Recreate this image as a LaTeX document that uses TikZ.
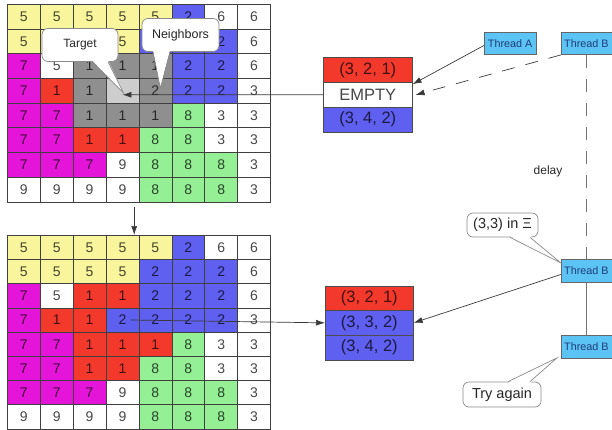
\documentclass[tikz,border=0pt]{standalone}
\usepackage{fontspec}
\setmainfont{Liberation Sans}
\usetikzlibrary{arrows.meta,calc}

\definecolor{cY}{HTML}{F9F59C}
\definecolor{cB}{HTML}{5F5FF0}
\definecolor{cM}{HTML}{E414D8}
\definecolor{cR}{HTML}{F2392C}
\definecolor{cG}{HTML}{8F8F8F}
\definecolor{cL}{HTML}{CDCDCD}
\definecolor{cN}{HTML}{95F095}
\definecolor{cW}{HTML}{FFFFFF}
\definecolor{thfill}{HTML}{5CC3F5}
\definecolor{thtext}{HTML}{1F3C78}
\definecolor{linkc}{HTML}{3A3A3A}
\definecolor{bubbleline}{HTML}{8A8A8A}

\tikzset{
  cell/.style={draw=black!75, line width=0.6pt, anchor=north west, inner sep=0pt,
    minimum width=32.9pt, minimum height=24.7pt,
    font=\fontsize{14}{16}\selectfont, text=black, text opacity=0.72},
  stackrow/.style={draw=black!70, line width=0.6pt, anchor=north west, inner sep=0pt,
    minimum width=89pt, minimum height=24.7pt,
    font=\fontsize{16.5}{18}\selectfont, text=black, text opacity=0.72},
  thread/.style={draw=black!60, fill=thfill, anchor=north west, inner sep=0pt,
    minimum width=50.5pt, minimum height=22.5pt, text=thtext,
    font=\fontsize{10.8}{12}\selectfont},
  bubble/.style={rounded corners=6pt, draw=bubbleline, fill=white,
    line width=0.7pt, text=black!85, inner sep=2pt},
  tailedge/.style={draw=bubbleline, line width=0.7pt, line join=miter},
  link/.style={draw=linkc, line width=0.7pt},
  tip/.style={-{Latex[length=9pt,width=6pt]}},
  longdash/.style={dash pattern=on 13pt off 11pt}
}

\begin{document}
\begin{tikzpicture}[x=1pt,y=-1pt]
\useasboundingbox (0,0) rectangle (612,430);

% grid before the update (cells under the "Target" and "Neighbors" boxes left blank)
\foreach \rowdata [count=\r from 0] in {
  {Y/5,Y/5,Y/5,Y/5,Y/5,B/2,W/6,W/6},
  {Y/5,Y/{},Y/{},Y/5,B/{},B/{},B/2,W/6},
  {M/7,W/5,G/1,G/1,G/1,B/2,B/2,W/6},
  {M/7,R/1,G/1,L/{},G/2,B/2,B/2,W/3},
  {M/7,M/7,G/1,G/1,G/1,N/8,W/3,W/3},
  {M/7,M/7,R/1,R/1,N/8,N/8,W/3,W/3},
  {M/7,M/7,M/7,W/9,N/8,N/8,N/8,W/3},
  {W/9,W/9,W/9,W/9,N/8,N/8,N/8,W/3}} {
  \foreach \c/\v [count=\k from 0] in \rowdata {
    \node[cell, fill=c\c] (t\r\k) at ({7+\k*32.9}, {4+\r*24.7}) {\v};
  }
}

% grid after the update
\foreach \rowdata [count=\r from 0] in {
  {Y/5,Y/5,Y/5,Y/5,Y/5,B/2,W/6,W/6},
  {Y/5,Y/5,Y/5,Y/5,B/2,B/2,B/2,W/6},
  {M/7,W/5,R/1,R/1,B/2,B/2,B/2,W/6},
  {M/7,R/1,R/1,B/2,B/2,B/2,B/2,W/3},
  {M/7,M/7,R/1,R/1,R/1,N/8,W/3,W/3},
  {M/7,M/7,R/1,R/1,N/8,N/8,W/3,W/3},
  {M/7,M/7,M/7,W/9,N/8,N/8,N/8,W/3},
  {W/9,W/9,W/9,W/9,N/8,N/8,N/8,W/3}} {
  \foreach \c/\v [count=\k from 0] in \rowdata {
    \node[cell, minimum height=24.2pt, fill=c\c] (b\r\k) at ({7+\k*32.9}, {235+\r*24.2}) {\v};
  }
}

% work stacks
\node[stackrow, fill=cR] (s1a) at (323,57.5) {(3, 2, 1)};
\node[stackrow, fill=cW] (s1b) at (323,82.2) {EMPTY};
\node[stackrow, fill=cB] (s1c) at (323,106.9) {(3, 4, 2)};

\node[stackrow, fill=cR, minimum width=88pt] (s2a) at (325,285.5) {(3, 2, 1)};
\node[stackrow, fill=cB, minimum width=88pt] (s2b) at (325,310.2) {(3, 3, 2)};
\node[stackrow, fill=cB, minimum width=88pt] (s2c) at (325,334.9) {(3, 4, 2)};

% threads
\node[thread, minimum width=52pt] (thA) at (484,32) {Thread A};
\node[thread] (thB1) at (561,32) {Thread B};
\node[thread] (thB2) at (561,259) {Thread B};
\node[thread] (thB3) at (561,335) {Thread B};

\node[font=\fontsize{12}{14}\selectfont, text=black!85] (delay) at (548,171) {delay};

% connectors
\draw[link, tip] (s1b.west) -- ([yshift=-4pt]t33.center);
\draw[link, tip, shorten <=5pt] ([xshift=-5pt]t73.south east) -- ([xshift=-5pt]b03.north east);
\draw[link, tip] ([xshift=8pt]b33.center) -- (s2b.west);

\draw[link, tip] ([yshift=-2pt]thA.west) -- ([yshift=-2pt]s1b.north east);
\draw[link, tip, longdash] (thB1.south west) -- ([xshift=3pt]s1b.east);
\draw[link, longdash, draw=black!55] (thB1.south) -- (thB2.north);
\draw[link, draw=black!55] (thB2.south) -- (thB3.north);
\draw[link, tip] ([yshift=-4pt]thB2.west) -- (s2b.east);

% speech bubbles: rounded box plus a pointed tail
\node[bubble, minimum width=76pt, minimum height=33pt, font=\fontsize{12}{14}\selectfont]
  (target) at (80,45) {Target};
\coordinate (targettip) at ([xshift=1pt,yshift=-2pt]t33.center);
\fill[white] ($(target.south)+(12,-1.5)$) -- (targettip) -- ($(target.south)+(28,-1.5)$) -- cycle;
\draw[tailedge] ($(target.south)+(12,0)$) -- (targettip) -- ($(target.south)+(28,0)$);

\node[bubble, minimum width=77pt, minimum height=33pt, font=\fontsize{12.5}{14}\selectfont]
  (nbrs) at (180.5,35) {Neighbors};
\coordinate (nbrstip) at ([xshift=5pt,yshift=2.5pt]t34.center);
\fill[white] ($(nbrs.south)+(-27.5,-1.5)$) -- (nbrstip) -- ($(nbrs.south)+(-10.5,-1.5)$) -- cycle;
\draw[tailedge] ($(nbrs.south)+(-27.5,0)$) -- (nbrstip) -- ($(nbrs.south)+(-10.5,0)$);

\node[bubble, minimum width=71pt, minimum height=24pt, font=\fontsize{14.5}{16}\selectfont]
  (inxi) at (502.5,225) {(3,3) in Ξ};
\coordinate (inxitip) at ([yshift=-4pt]thB2.north west);
\fill[white] ($(inxi.south)+(7.5,-1.5)$) -- (inxitip) -- ($(inxi.south)+(27.5,-1.5)$) -- cycle;
\draw[tailedge] ($(inxi.south)+(7.5,0)$) -- (inxitip) -- ($(inxi.south)+(27.5,0)$);

\node[bubble, minimum width=78pt, minimum height=25pt, font=\fontsize{14.5}{16}\selectfont]
  (retry) at (502,394.5) {Try again};
\coordinate (retrytip) at ([xshift=-4pt]thB3.south west);
\fill[white] ($(retry.north)+(6,1.5)$) -- (retrytip) -- ($(retry.north)+(28,1.5)$) -- cycle;
\draw[tailedge] ($(retry.north)+(6,0)$) -- (retrytip) -- ($(retry.north)+(28,0)$);
\end{tikzpicture}
\end{document}
